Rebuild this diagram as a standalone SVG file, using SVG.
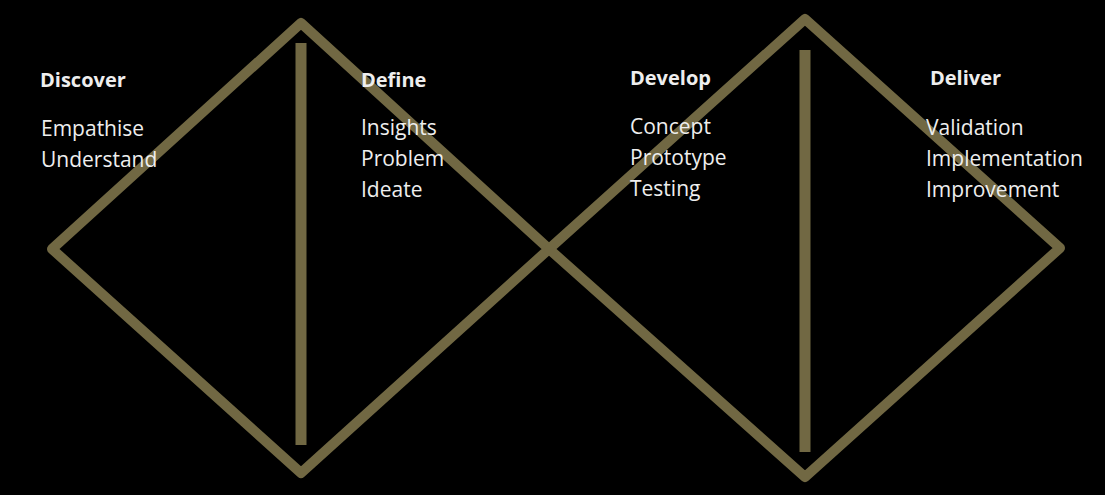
<svg xmlns="http://www.w3.org/2000/svg" width="1105" height="495" viewBox="0 0 1105 495">
<style>
.ln{fill:none;stroke:#716843;stroke-width:10;stroke-linejoin:round}
.bar{stroke:#716843;stroke-width:11}
.h{font-family:"Open Sans","Noto Sans",sans-serif;font-weight:bold;font-size:20px;fill:#eeeeee}
.t{font-family:"Open Sans","Noto Sans",sans-serif;font-size:21px;fill:#eeeeee}
</style>
<rect width="1105" height="495" fill="#000000"/>
<g id="connectors">
<polygon id="diamond-left" class="ln" points="301,23 549,249 301,473 52,249"/>
<polygon id="diamond-right" class="ln" points="805,19 1060,248 805,477 549,249"/>
<line id="bar-left" class="bar" x1="301" y1="43" x2="301" y2="445"/>
<line id="bar-right" class="bar" x1="805" y1="50" x2="805" y2="452"/>
</g>
<g id="discover">
<text class="h" x="40" y="87">Discover</text>
<text class="t" x="41" y="136">Empathise</text>
<text class="t" x="41" y="167">Understand</text>
</g>
<g id="define">
<text class="h" x="361" y="87">Define</text>
<text class="t" x="361" y="135">Insights</text>
<text class="t" x="361" y="166">Problem</text>
<text class="t" x="361" y="197">Ideate</text>
</g>
<g id="develop">
<text class="h" x="630" y="85">Develop</text>
<text class="t" x="630" y="134">Concept</text>
<text class="t" x="630" y="165">Prototype</text>
<text class="t" x="630" y="196">Testing</text>
</g>
<g id="deliver">
<text class="h" x="930" y="85">Deliver</text>
<text class="t" x="926" y="135">Validation</text>
<text class="t" x="926" y="166">Implementation</text>
<text class="t" x="926" y="197">Improvement</text>
</g>
</svg>
